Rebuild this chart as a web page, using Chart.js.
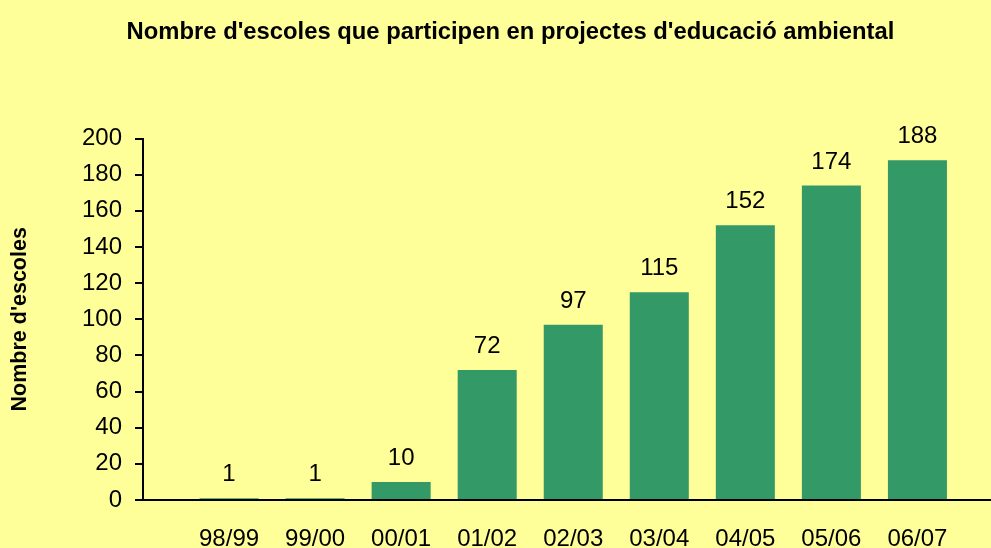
<!DOCTYPE html>
<html>
<head>
<meta charset="utf-8">
<script src="https://cdn.jsdelivr.net/npm/chart.js@4/dist/chart.umd.min.js"></script>
<style>
  html, body { margin: 0; padding: 0; background: #FFFF99; }
  #wrap { width: 991px; height: 548px; position: relative; }
</style>
</head>
<body>
<div id="wrap"><canvas id="c"></canvas></div>
<script>
const categories = ['98/99', '99/00', '00/01', '01/02', '02/03', '03/04', '04/05', '05/06', '06/07'];
const schools = [1, 1, 10, 72, 97, 115, 152, 174, 188];
const yTicks = [0, 20, 40, 60, 80, 100, 120, 140, 160, 180, 200];
const titleText = "Nombre d'escoles que participen en projectes d'educació ambiental";
const yTitleText = "Nombre d'escoles";

const FONT = "'Liberation Sans', Arial, sans-serif";

const valueLabels = {
  id: 'valueLabels',
  afterDatasetsDraw(chart) {
    const ctx = chart.ctx;
    const meta = chart.getDatasetMeta(0);
    ctx.save();
    ctx.font = '24px ' + FONT;
    ctx.fillStyle = '#000';
    ctx.textAlign = 'center';
    ctx.textBaseline = 'alphabetic';
    meta.data.forEach((bar, i) => {
      ctx.fillText(String(schools[i]), bar.x, bar.y - 17);
    });
    ctx.restore();
  }
};

const bgPlugin = {
  id: 'bg',
  beforeDraw(chart) {
    const ctx = chart.ctx;
    ctx.save();
    ctx.fillStyle = '#FFFF99';
    ctx.fillRect(0, 0, chart.width, chart.height);
    ctx.restore();
  }
};

new Chart(document.getElementById('c'), {
  type: 'bar',
  data: {
    datasets: [{
      data: schools.map((v, i) => ({ x: i, y: v })),
      backgroundColor: '#339966',
      borderWidth: 0,
      categoryPercentage: 1,
      barPercentage: 0.686
    }]
  },
  options: {
    responsive: true,
    maintainAspectRatio: false,
    animation: false,
    layout: { padding: { left: 30, right: 0, top: 0, bottom: 0 } },
    plugins: {
      legend: { display: false },
      tooltip: { enabled: false },
      title: {
        display: true,
        text: titleText,
        color: '#000',
        font: { family: FONT, size: 23.8, weight: 'bold' },
        padding: { top: 18, bottom: 92 }
      }
    },
    scales: {
      x: {
        type: 'linear',
        offset: false,
        min: -1,
        max: 8.855,
        afterFit(scale) { scale.height = 48; },
        ticks: {
          stepSize: 1,
          includeBounds: false,
          autoSkip: false,
          maxRotation: 0,
          color: '#000',
          padding: 25,
          font: { family: FONT, size: 24 },
          callback: (v) => (Number.isInteger(v) && categories[v] !== undefined) ? categories[v] : ''
        },
        grid: { display: true, drawOnChartArea: false, drawTicks: false, color: '#000' },
        border: { display: true, color: '#000', width: 2 }
      },
      y: {
        min: 0,
        max: 200,
        afterFit(scale) { scale.width = 113; },
        afterBuildTicks(scale) { scale.ticks = yTicks.map(v => ({ value: v })); },
        ticks: {
          color: '#000',
          padding: 13,
          font: { family: FONT, size: 24 }
        },
        grid: { display: true, drawOnChartArea: false, drawTicks: true, tickLength: 8, color: '#000', lineWidth: 2 },
        border: { display: true, color: '#000', width: 2 },
        title: {
          display: true,
          text: yTitleText,
          color: '#000',
          font: { family: FONT, size: 21.5, weight: 'bold' },
          padding: { top: -23, bottom: 0 }
        }
      }
    }
  },
  plugins: [bgPlugin, valueLabels]
});
</script>
</body>
</html>
